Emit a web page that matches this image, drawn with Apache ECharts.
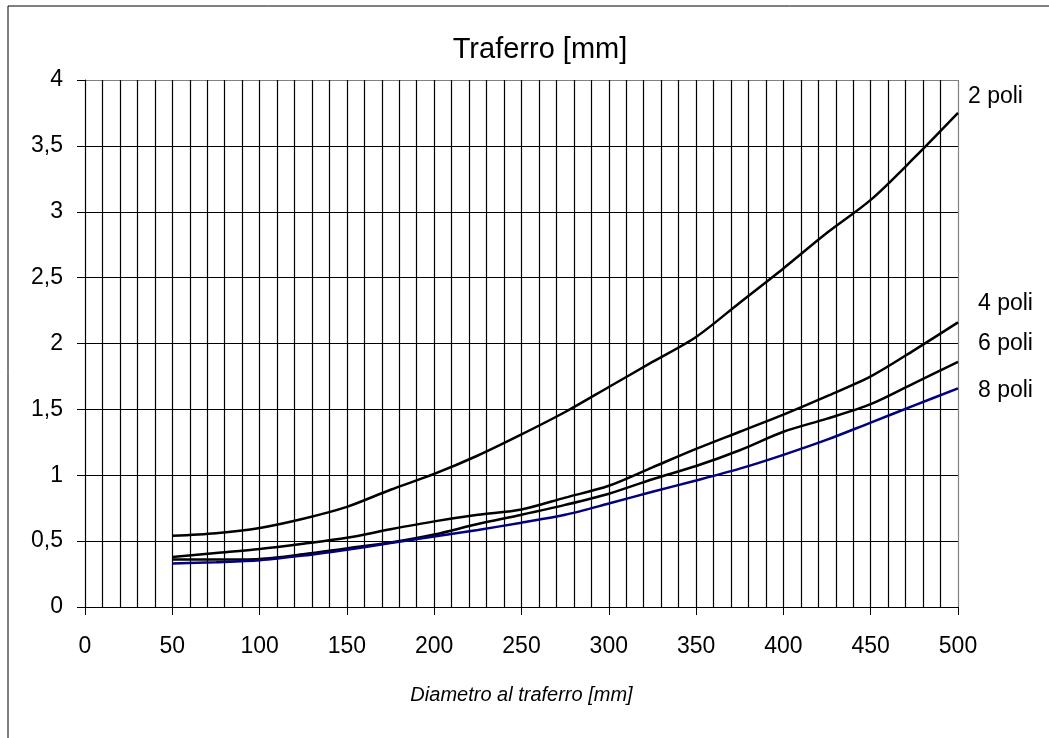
<!DOCTYPE html>
<html>
<head>
<meta charset="utf-8">
<title>Traferro [mm]</title>
<script src="https://cdn.jsdelivr.net/npm/echarts@6/dist/echarts.min.js"></script>
<style>
  html, body { margin: 0; padding: 0; background: #fff; }
  #chart { width: 1049px; height: 738px; }
</style>
</head>
<body>
<div id="chart"></div>
<script>
// Diametro al traferro [mm]
const diametro = [50, 75, 100, 125, 150, 175, 200, 225, 250, 275, 300, 325, 350, 375, 400, 425, 450, 475, 500];

// Traferro [mm] per numero di poli
const poli2 = [0.54, 0.56, 0.60, 0.67, 0.76, 0.89, 1.01, 1.15, 1.31, 1.48, 1.67, 1.86, 2.05, 2.31, 2.57, 2.84, 3.09, 3.41, 3.75];
const poli4 = [0.38, 0.41, 0.44, 0.48, 0.525, 0.59, 0.65, 0.70, 0.74, 0.83, 0.92, 1.06, 1.20, 1.33, 1.46, 1.60, 1.75, 1.95, 2.16];
const poli6 = [0.36, 0.36, 0.365, 0.40, 0.445, 0.49, 0.55, 0.63, 0.70, 0.775, 0.86, 0.97, 1.07, 1.19, 1.33, 1.43, 1.54, 1.70, 1.86];
const poli8 = [0.33, 0.34, 0.355, 0.39, 0.435, 0.485, 0.535, 0.585, 0.64, 0.70, 0.785, 0.875, 0.96, 1.05, 1.155, 1.27, 1.40, 1.53, 1.66];

const serieNomi = ['2 poli', '4 poli', '6 poli', '8 poli'];
const titolo = 'Traferro [mm]';
const nomeAsseX = 'Diametro al traferro [mm]';

const FONT = '"Liberation Sans", Arial, Helvetica, sans-serif';

function coppie(xs, ys) { return xs.map((x, i) => [x, ys[i]]); }

function linea(nome, valori, colore) {
  return {
    name: nome,
    type: 'line',
    data: coppie(diametro, valori),
    smooth: 0.3,
    showSymbol: false,
    symbol: 'none',
    lineStyle: { color: colore, width: 2.5 },
    z: 5
  };
}

const xSplitColors = Array(10).fill('#000').concat(['#808080']);
const ySplitColors = Array(8).fill('#000').concat(['#808080']);

const chart = echarts.init(document.getElementById('chart'), null, { renderer: 'canvas' });

chart.setOption({
  backgroundColor: '#fff',
  animation: false,
  title: {
    text: titolo,
    left: 535,
    top: 30,
    textAlign: 'center',
    textStyle: { fontFamily: FONT, fontSize: 29, fontWeight: 'normal', color: '#000' }
  },
  grid: { left: 85, right: 91, top: 80, bottom: 131, containLabel: false },
  xAxis: {
    type: 'value',
    min: 0,
    max: 500,
    interval: 50,
    name: nomeAsseX,
    nameLocation: 'middle',
    nameGap: 78,
    nameTextStyle: { fontFamily: FONT, fontSize: 20, fontStyle: 'italic', color: '#000', verticalAlign: 'top' },
    axisLine: { show: true, onZero: false, lineStyle: { color: '#000', width: 1 } },
    axisTick: { show: true, length: 8, inside: false, lineStyle: { color: '#000', width: 1 } },
    minorTick: { show: false, splitNumber: 5 },
    minorSplitLine: { show: true, lineStyle: { color: '#000', width: 1.2 } },
    splitLine: { show: true, lineStyle: { color: xSplitColors, width: 1.2 } },
    axisLabel: { margin: 28, fontFamily: FONT, fontSize: 23, color: '#000' }
  },
  yAxis: {
    type: 'value',
    min: 0,
    max: 4,
    interval: 0.5,
    axisLine: { show: true, onZero: false, lineStyle: { color: '#000', width: 1 } },
    axisTick: { show: true, length: 8, inside: false, lineStyle: { color: '#000', width: 1 } },
    splitLine: { show: true, lineStyle: { color: ySplitColors, width: 1.2 } },
    axisLabel: {
      margin: 22,
      fontFamily: FONT,
      fontSize: 23,
      color: '#000',
      formatter: v => String(v).replace('.', ',')
    }
  },
  series: [
    linea(serieNomi[0], poli2, '#000'),
    linea(serieNomi[1], poli4, '#000'),
    linea(serieNomi[2], poli6, '#000'),
    linea(serieNomi[3], poli8, '#000080')
  ],
  graphic: [
    {
      type: 'rect',
      shape: { x: 8, y: 6, width: 1200, height: 900 },
      style: { fill: null, stroke: '#000', lineWidth: 1 },
      silent: true,
      z: -10
    },
    { type: 'text', left: 968, top: 85, style: { text: serieNomi[0], font: '23px ' + FONT, fill: '#000' } },
    { type: 'text', left: 978, top: 292, style: { text: serieNomi[1], font: '23px ' + FONT, fill: '#000' } },
    { type: 'text', left: 978, top: 332, style: { text: serieNomi[2], font: '23px ' + FONT, fill: '#000' } },
    { type: 'text', left: 978, top: 379, style: { text: serieNomi[3], font: '23px ' + FONT, fill: '#000' } }
  ]
});
</script>
</body>
</html>
